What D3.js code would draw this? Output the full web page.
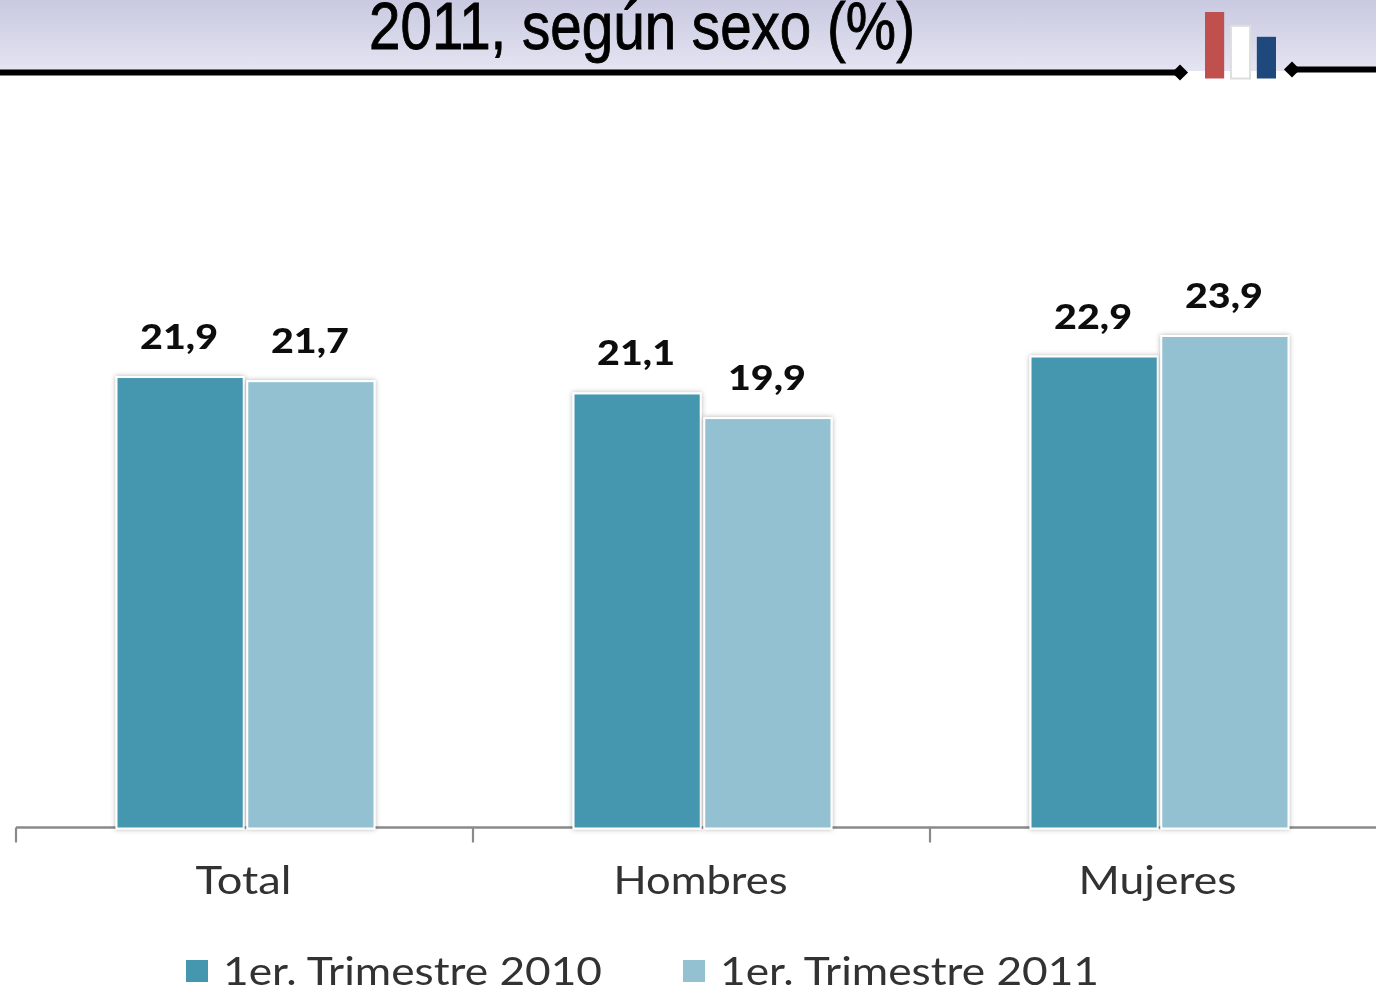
<!DOCTYPE html>
<html><head><meta charset="utf-8">
<script src="https://cdn.jsdelivr.net/npm/d3@7"></script>
<style>html,body{margin:0;padding:0;background:#fff;overflow:hidden}svg{display:block}</style>
</head><body><div id="c"></div>
<script>
const categories = ["Total","Hombres","Mujeres"];
const seriesNames = ["1er. Trimestre 2010","1er. Trimestre 2011"];
const values2010 = [21.9,21.1,22.9];
const values2011 = [21.7,19.9,23.9];
const seriesColors = ["#4497b0","#93c1d2"];
const titleText = "2011, según sexo (%)";
const logoValues = [67,53,42];
const logoColors = ["#c0504d","#ffffff","#1f497d"];

const W=1376,H=989, baseY=827.5;
const svg=d3.select("#c").append("svg").attr("width",W).attr("height",H);
const defs=svg.append("defs");
const g=defs.append("linearGradient").attr("id","hd").attr("x1",0).attr("x2",0).attr("y1",0).attr("y2",1);
g.append("stop").attr("offset",0).attr("stop-color","#c9c9e1");
g.append("stop").attr("offset",1).attr("stop-color","#e4e4f2");
const blur=defs.append("filter").attr("id","sh").attr("x","-10%").attr("y","-10%").attr("width","120%").attr("height","120%");
blur.append("feDropShadow").attr("dx",0).attr("dy",0).attr("stdDeviation",2.5).attr("flood-color","#000").attr("flood-opacity",.3);
const soft=defs.append("filter").attr("id","soft");
soft.append("feGaussianBlur").attr("stdDeviation",0.6);

// header
svg.append("rect").attr("width",W).attr("height",71).attr("fill","url(#hd)");
svg.append("text").attr("x",369).attr("y",49).attr("font-family","'Liberation Sans Narrow','Liberation Sans'")
  .attr("font-size",66).attr("fill","#000").attr("stroke","#000").attr("stroke-width",.9)
  .attr("textLength",546).attr("lengthAdjust","spacingAndGlyphs").text(titleText);
svg.append("rect").attr("x",0).attr("y",69.5).attr("width",1180).attr("height",6).attr("fill","#000");
svg.append("rect").attr("x",1292).attr("y",66.5).attr("width",84).attr("height",6).attr("fill","#000");
[[1180,72.5],[1292,69.5]].forEach(([x,y])=>svg.append("path").attr("d",d3.symbol(d3.symbolSquare,130)()).attr("fill","#000").attr("transform",`translate(${x},${y}) rotate(45)`));

// logo
const lx=d3.scaleBand().domain(d3.range(3)).range([1205,1276]).paddingInner(.26);
const ly=d3.scaleLinear().domain([0,67]).range([78.5,12]);
logoValues.forEach((v,i)=>svg.append("rect").attr("x",lx(i)).attr("y",ly(v)).attr("width",lx.bandwidth())
  .attr("height",ly(0)-ly(v)).attr("fill",logoColors[i]).attr("stroke",i==1?"#dedede":"none").attr("stroke-width",2));

// chart
const x0=d3.scaleBand().domain(categories).range([16,1387]);
const x1=d3.scaleBand().domain([0,1]).range([101,358]).paddingInner(.035);
const y=d3.scaleLinear().domain([0,23.9]).range([baseY,337]);
const blurG=svg.append("g").attr("filter","url(#soft)");

const ag=blurG.append("g").attr("transform",`translate(0,${baseY})`);
ag.append("line").attr("x1",16).attr("x2",W).attr("stroke","#8a8a8a").attr("stroke-width",2.4);
categories.map(c=>x0(c)).forEach(t=>ag.append("line").attr("x1",t).attr("x2",t).attr("y1",0).attr("y2",15).attr("stroke","#8a8a8a").attr("stroke-width",2.2));

const labelW={"Total":96,"Hombres":174,"Mujeres":158};
categories.forEach((c,i)=>{
  [values2010[i],values2011[i]].forEach((v,s)=>{
    const bx=x0(c)+x1(s);
    blurG.append("rect").attr("x",bx+.5).attr("y",y(v)).attr("width",x1.bandwidth()-1).attr("height",baseY-y(v))
      .attr("fill",seriesColors[s]).attr("stroke","#fff").attr("stroke-width",4).attr("paint-order","stroke").attr("filter","url(#sh)");
  });
});
categories.forEach((c,i)=>{
  const cx=x0(c)+x0.bandwidth()/2;
  [values2010[i],values2011[i]].forEach((v,s)=>{
    const bx=x0(c)+x1(s);
    blurG.append("text").attr("x",bx+x1.bandwidth()/2-1).attr("y",y(v)-29).attr("text-anchor","middle")
      .attr("font-family","Lato").attr("font-weight",900).attr("font-size",35).attr("fill","#111")
      .attr("textLength",78).attr("lengthAdjust","spacingAndGlyphs").text(d3.format(".1f")(v).replace(".",","));
  });
  blurG.append("text").attr("x",cx-1).attr("y",894).attr("text-anchor","middle")
    .attr("font-family","Lato").attr("font-size",38).attr("fill","#333")
    .attr("textLength",labelW[c]).attr("lengthAdjust","spacingAndGlyphs").text(c);
});

// legend
const lgX=d3.scaleOrdinal().domain(seriesNames).range([185,682]);
seriesNames.forEach((n,i)=>{
  blurG.append("rect").attr("x",lgX(n)+1).attr("y",960).attr("width",22).attr("height",22).attr("fill",seriesColors[i]);
  blurG.append("text").attr("x",lgX(n)+38).attr("y",985).attr("font-family","Lato").attr("font-size",38).attr("fill","#333")
    .attr("textLength",379).attr("lengthAdjust","spacingAndGlyphs").text(n);
});
</script></body></html>
